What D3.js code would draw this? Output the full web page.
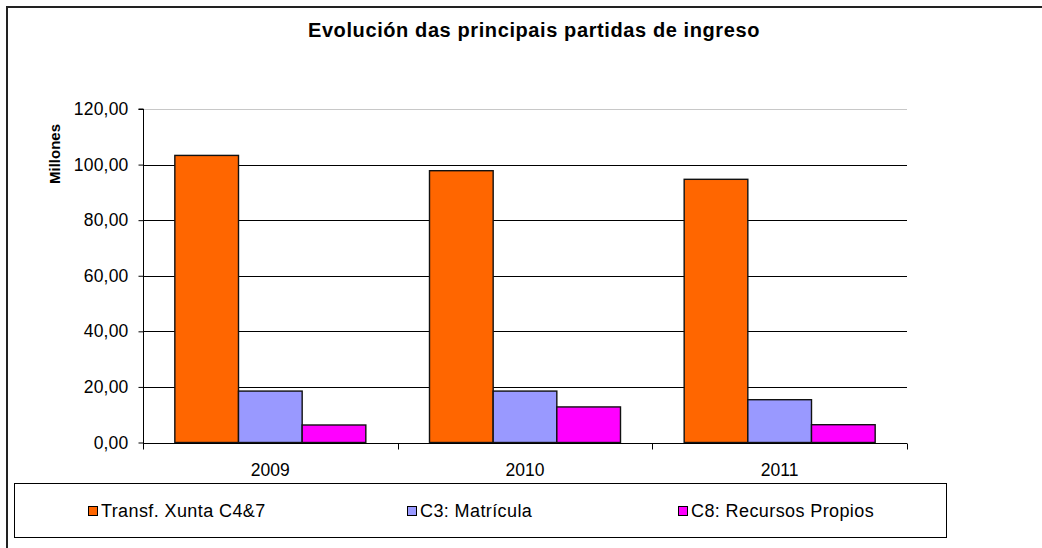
<!DOCTYPE html>
<html>
<head>
<meta charset="utf-8">
<script src="https://cdn.jsdelivr.net/npm/d3@7"></script>
<style>
  html, body { margin: 0; padding: 0; background: #fff; }
  svg { display: block; font-family: "Liberation Sans", Arial, sans-serif; }
</style>
</head>
<body>
<svg id="chart" width="1042" height="548"></svg>
<script>
const title = "Evolución das principais partidas de ingreso";
const yAxisTitle = "Millones";
const categories = ["2009", "2010", "2011"];
const seriesNames = ["Transf. Xunta C4&7", "C3: Matrícula", "C8: Recursos Propios"];
const seriesColors = ["#FF6600", "#9999FF", "#FF00FF"];
const transfXunta = [103.3, 97.8, 94.7];
const matricula = [18.5, 18.5, 15.4];
const recursosPropios = [6.3, 12.8, 6.4];
const yTicks = [0, 20, 40, 60, 80, 100, 120];

const seriesValues = [transfXunta, matricula, recursosPropios];

const svg = d3.select("#chart");
const plot = { left: 143, right: 907, top: 109, bottom: 442.5 };

// outer frame
svg.append("rect")
  .attr("x", 7).attr("y", 7).attr("width", 1100).attr("height", 600)
  .attr("fill", "none").attr("stroke", "#222").attr("stroke-width", 2);

// title
svg.append("text")
  .attr("x", 534).attr("y", 37)
  .attr("text-anchor", "middle")
  .style("font-size", "20px").style("font-weight", "bold")
  .style("letter-spacing", "0.6px")
  .attr("fill", "#000")
  .text(title);

const y = d3.scaleLinear().domain([0, 120]).range([plot.bottom, plot.top]);
const x0 = d3.scaleBand().domain(categories).range([plot.left, plot.right]).padding(0);
const x1 = d3.scaleBand().domain(seriesNames).range([0, x0.bandwidth()])
  .paddingInner(0).paddingOuter(0.5);

// gridlines
svg.append("g").selectAll("line")
  .data(yTicks.filter(d => d > 0))
  .join("line")
  .attr("x1", plot.left).attr("x2", plot.right)
  .attr("y1", d => Math.round(y(d)) + 0.5).attr("y2", d => Math.round(y(d)) + 0.5)
  .attr("stroke", d => d === 120 ? "#c8c8c8" : "#000")
  .attr("stroke-width", 1);

// bars
const groups = svg.append("g").selectAll("g")
  .data(categories)
  .join("g")
  .attr("transform", d => `translate(${x0(d)},0)`);

groups.selectAll("rect")
  .data((c, i) => seriesNames.map((s, k) => ({ s, k, v: seriesValues[k][i] })))
  .join("rect")
  .attr("x", d => x1(d.s))
  .attr("y", d => y(d.v))
  .attr("width", x1.bandwidth())
  .attr("height", d => y(0) - y(d.v))
  .attr("fill", d => seriesColors[d.k])
  .attr("stroke", "#111")
  .attr("stroke-width", 1.4);

// y axis
const yAxis = d3.axisLeft(y)
  .tickValues(yTicks)
  .tickSize(5)
  .tickPadding(10)
  .tickFormat(d => d3.format(".2f")(d).replace(".", ","));
const gy = svg.append("g")
  .attr("transform", `translate(${plot.left + 0.5},0)`)
  .call(yAxis);
gy.select(".domain").attr("stroke", "#000").attr("d", `M-5,${plot.top}H0V${plot.bottom + 4}`);
gy.selectAll(".tick line").attr("stroke", "#000");
gy.selectAll(".tick text")
  .attr("fill", "#000")
  .style("font-size", "17.5px")
  .style("letter-spacing", "0.2px")
  .style("font-family", "'Liberation Sans', Arial, sans-serif");

// x axis
const gx = svg.append("g").attr("transform", `translate(0,${Math.round(plot.bottom) + 0.5})`);
gx.append("line")
  .attr("x1", plot.left).attr("x2", plot.right)
  .attr("stroke", "#000");
const boundaries = categories.map(c => x0(c)).concat([x0(categories[categories.length - 1]) + x0.bandwidth()]);
gx.selectAll("line.tk")
  .data(boundaries)
  .join("line")
  .attr("class", "tk")
  .attr("x1", d => Math.round(d) + 0.5).attr("x2", d => Math.round(d) + 0.5)
  .attr("y1", 0).attr("y2", 6)
  .attr("stroke", "#000");
gx.selectAll("text")
  .data(categories)
  .join("text")
  .attr("x", d => x0(d) + x0.bandwidth() / 2)
  .attr("y", 32.5)
  .attr("text-anchor", "middle")
  .style("font-size", "17.5px")
  .attr("fill", "#000")
  .text(d => d);

// y axis title
svg.append("text")
  .attr("transform", "translate(60,154) rotate(-90)")
  .attr("text-anchor", "middle")
  .style("font-size", "15px").style("font-weight", "bold")
  .attr("fill", "#000")
  .text(yAxisTitle);

// legend
svg.append("rect")
  .attr("x", 14.5).attr("y", 483.5).attr("width", 932).attr("height", 54)
  .attr("fill", "#fff").attr("stroke", "#000").attr("stroke-width", 1);
const legendX = [88, 407, 678];
const lg = svg.append("g").selectAll("g")
  .data(seriesNames)
  .join("g")
  .attr("transform", (d, i) => `translate(${legendX[i]},0)`);
lg.append("rect")
  .attr("x", 0.5).attr("y", 506.5).attr("width", 9).attr("height", 9)
  .attr("fill", (d, i) => seriesColors[i])
  .attr("stroke", "#000");
lg.append("text")
  .attr("x", 13).attr("y", 516.5)
  .style("font-size", "18px")
  .style("letter-spacing", "0.4px")
  .attr("fill", "#000")
  .text(d => d);
</script>
</body>
</html>
